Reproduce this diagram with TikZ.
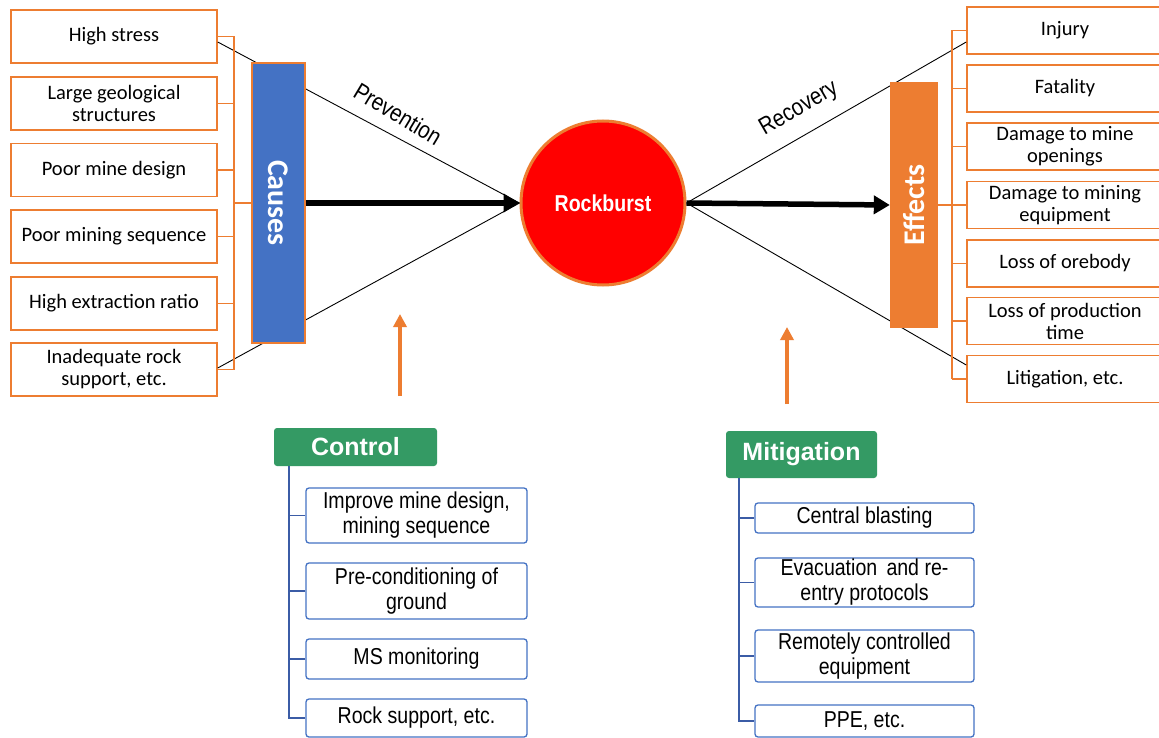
\documentclass[tikz,border=0pt]{standalone}
\usepackage{fontspec}
\setmainfont{Carlito}
\newfontfamily\arialn[FakeStretch=0.85]{Liberation Sans}
\newfontfamily\arial{Liberation Sans}
\usetikzlibrary{arrows.meta,calc}
\definecolor{orng}{HTML}{ED7D31}
\definecolor{blu}{HTML}{4472C4}
\definecolor{treeblue}{HTML}{3B5CA6}
\definecolor{grn}{HTML}{349A64}
\definecolor{rbred}{HTML}{FF0000}
\tikzset{
  causebox/.style={draw=orng, line width=1.5pt, fill=white, minimum width=206pt, minimum height=53pt,
    inner sep=0pt, align=center, font=\fontsize{20.5}{22}\selectfont},
  effectbox/.style={causebox, minimum width=196pt, minimum height=47pt},
  subbox/.style={draw=blu, line width=1.3pt, fill=white, rounded corners=3pt, inner sep=0pt,
    align=center, font=\arialn\fontsize{23}{25}\selectfont},
  titlebox/.style={fill=grn, rounded corners=3pt, inner sep=0pt, text=white,
    font=\arial\bfseries\fontsize{25}{28}\selectfont},
  bracket/.style={draw=orng, line width=1.8pt},
  tree/.style={draw=treeblue, line width=1.8pt},
  thin/.style={draw=black, line width=0.9pt},
  bigarrow/.style={draw=black, line width=5.5pt, -{Triangle[length=16pt,width=18pt]}},
  uparrow/.style={draw=orng, line width=3.5pt, -{Triangle[length=13pt,width=13pt]}},
  label/.style={font=\arialn\fontsize{24}{26}\selectfont, inner sep=0pt}
}
\begin{document}
\begin{tikzpicture}[x=1pt,y=-1pt]
\clip (0,0) rectangle (1159,738);
\fill[white] (0,0) rectangle (1159,738);

% central circle
\node[circle, draw=orng, line width=3pt, fill=rbred, minimum size=164pt, inner sep=0pt,
  text=white, font=\arialn\bfseries\fontsize{23}{25}\selectfont] (rb) at (603,203) {Rockburst};

% left boxes
\node[causebox] (hs) at (114,36.5) {High stress};
\node[causebox] (lg) at (114,103.5) {Large geological\\structures};
\node[causebox] (pd) at (114,170) {Poor mine design};
\node[causebox] (ps) at (114,236.5) {Poor mining sequence};
\node[causebox] (he) at (114,303.5) {High extraction ratio};
\node[causebox] (ir) at (114,369.5) {Inadequate rock\\support, etc.};

% right boxes
\node[effectbox] (inj) at (1065,30.5) {Injury};
\node[effectbox] (fat) at (1065,88.5) {Fatality};
\node[effectbox] (dmo) at (1065,146.5) {Damage to mine\\openings};
\node[effectbox] (dme) at (1065,205) {Damage to mining\\equipment};
\node[effectbox] (lo) at (1065,263.5) {Loss of orebody};
\node[effectbox] (lp) at (1065,321) {Loss of production\\time};
\node[effectbox] (lit) at (1065,379) {Litigation, etc.};

% thin lines (behind the bars)
\draw[thin] ($(hs.east)+(0,5.5)$) -- (rb.west);
\draw[thin] ($(ir.east)+(0,-1.5)$) -- (rb.west);
\draw[thin] (rb.east) -- ($(inj.west)+(0,11.5)$);
\draw[thin] (rb.east) -- ($(lit.west)+(0,-14)$);

% bars
\node[draw=orng, line width=1.5pt, fill=blu, minimum width=53pt, minimum height=280pt, inner sep=0pt] (causes) at (278.5,203) {};
\node[rotate=-90, text=white, font=\bfseries\fontsize{30}{31}\selectfont] at (causes.center) {Causes};
\node[fill=orng, minimum width=48pt, minimum height=246pt, inner sep=0pt] (effects) at (914,205) {};
\node[rotate=90, text=white, font=\bfseries\fontsize{30}{31}\selectfont] at (effects.center) {Effects};

% left bracket
\coordinate (lbt) at (234,36.5);
\coordinate (lbb) at (234,369.5);
\draw[bracket] (lbt) -- (lbb);
\foreach \n in {hs,lg,pd,ps,he,ir} \draw[bracket] (\n.east) -- (\n.east -| lbt);
\draw[bracket] (causes.west) -- (causes.west -| lbt);

% right bracket
\coordinate (rbt) at (952,30.5);
\coordinate (rbb) at (952,379);
\draw[bracket] (rbt) -- (rbb);
\foreach \n in {inj,fat,dmo,dme,lo,lp,lit} \draw[bracket] (\n.west) -- (\n.west -| rbt);
\draw[bracket] (effects.east) -- (effects.east -| rbt);

% main arrows
\draw[bigarrow] (causes.east) -- (rb.west);
\draw[bigarrow] (rb.east) -- (effects.west);

% labels
\node[label, rotate=-31] at (398,114) {Prevention};
\node[label, rotate=30] at (799,109) {Recovery};

% up arrows
\coordinate (ua1s) at (400,396);
\coordinate (ua1e) at (400,314);
\coordinate (ua2s) at (787,404);
\coordinate (ua2e) at (787,327);
\draw[uparrow] (ua1s) -- (ua1e);
\draw[uparrow] (ua2s) -- (ua2e);

% Control
\node[titlebox, minimum width=163pt, minimum height=38pt] (ctl) at (355.5,447) {Control};
\node[subbox, minimum width=221pt, minimum height=55pt] (c1) at (416.5,515.5) {Improve mine design,\\mining sequence};
\node[subbox, minimum width=221pt, minimum height=56pt] (c2) at (416.5,591) {Pre-conditioning of\\ground};
\node[subbox, minimum width=221pt, minimum height=40pt] (c3) at (416.5,659) {MS monitoring};
\node[subbox, minimum width=221pt, minimum height=38pt] (c4) at (416.5,718) {Rock support, etc.};
\coordinate (ctop) at ($(ctl.south west)+(15,0)$);
\draw[tree] (ctop) |- (c4.west);
\foreach \n in {c1,c2,c3} \draw[tree] (\n.west) -- (\n.west -| ctop);

% Mitigation
\node[titlebox, minimum width=151pt, minimum height=47pt] (mit) at (801.5,454.5) {Mitigation};
\node[subbox, minimum width=219pt, minimum height=30pt] (m1) at (864.5,518) {Central blasting};
\node[subbox, minimum width=219pt, minimum height=49pt] (m2) at (864.5,582.5) {Evacuation\, and re-\\entry protocols};
\node[subbox, minimum width=219pt, minimum height=52pt] (m3) at (864.5,656) {Remotely controlled\\equipment};
\node[subbox, minimum width=219pt, minimum height=32pt] (m4) at (864.5,721) {PPE, etc.};
\coordinate (mtop) at ($(mit.south west)+(13,0)$);
\draw[tree] (mtop) |- (m4.west);
\foreach \n in {m1,m2,m3} \draw[tree] (\n.west) -- (\n.west -| mtop);
\end{tikzpicture}
\end{document}
